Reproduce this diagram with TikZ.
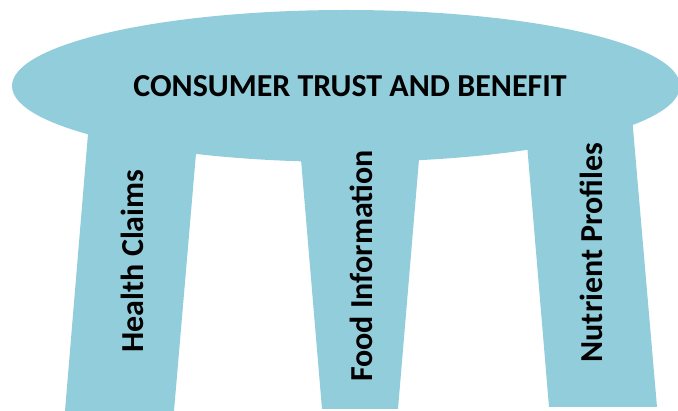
\documentclass[tikz,border=0pt]{standalone}
\usepackage{fontspec}
\setmainfont{Carlito}
\definecolor{legblue}{HTML}{92CDDC}
\begin{document}
\begin{tikzpicture}[x=1pt,y=-1pt,
  part/.style={fill=legblue,draw=none},
  label/.style={font=\fontsize{32}{36}\selectfont\bfseries,inner sep=0pt,anchor=base},
  leglabel/.style={label,rotate=90}]
\useasboundingbox (0,0) rectangle (678,411);
% legs
\path[part] (90,110) -- (198,130) -- (174,411) -- (65,411) -- cycle;
\path[part] (296,100) -- (424,100) -- (398,409) -- (322,409) -- cycle;
\path[part] (525,120) -- (631,105) -- (657,407) -- (549,407) -- cycle;
% top
\path[part] (346,86) ellipse [x radius=334, y radius=76];
\node[label] (title) at (350,97) {CONSUMER TRUST AND BENEFIT};
\node[leglabel] (health) at (143,261) {Health Claims};
\node[leglabel] (food) at (372,266) {Food Information};
\node[leglabel] (nutrient) at (602,252.5) {Nutrient Profiles};
\end{tikzpicture}
\end{document}
